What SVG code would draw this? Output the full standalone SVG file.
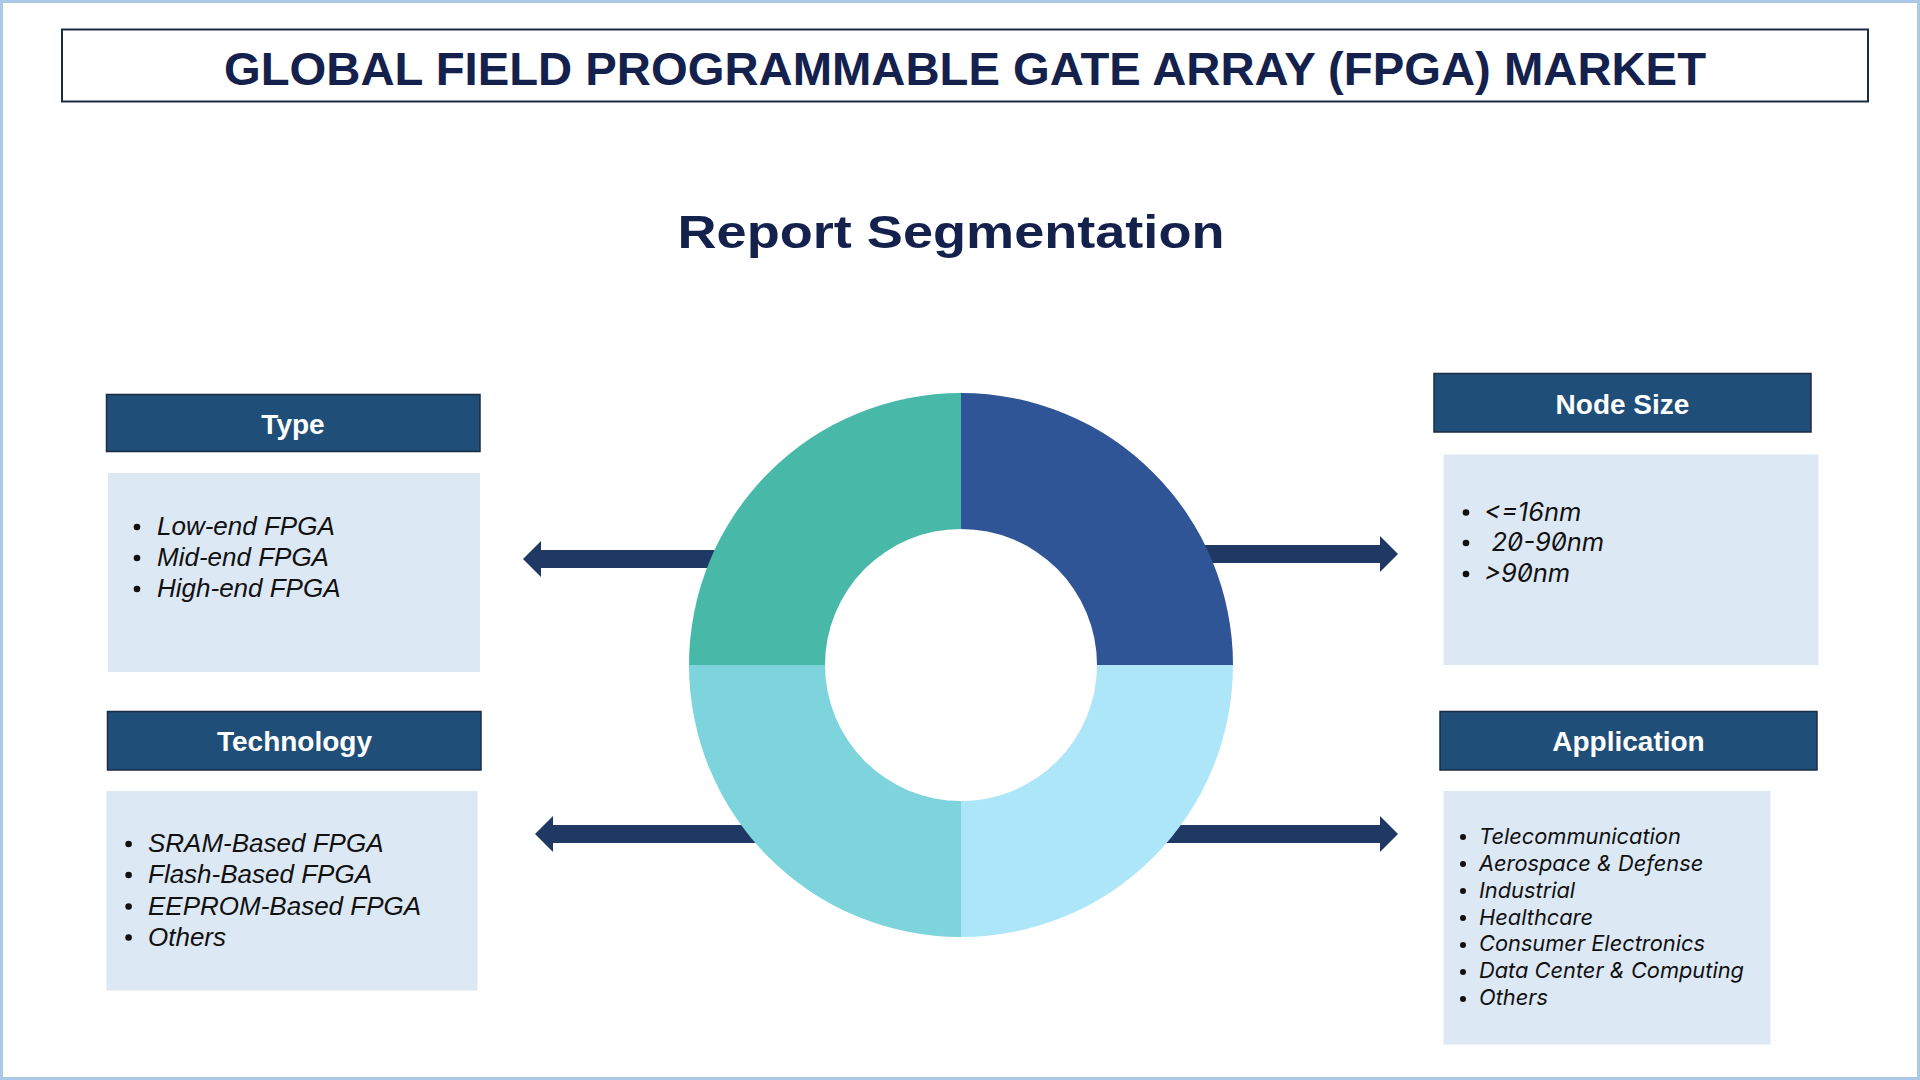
<svg xmlns="http://www.w3.org/2000/svg" width="1920" height="1080" viewBox="0 0 1920 1080">
<defs>
<style>
.title{font-family:"Liberation Sans",Arial,sans-serif;font-weight:bold;fill:#14214d;text-anchor:middle}
.hdr{fill:#1f4e79;stroke:#1b2d43;stroke-width:1.5}
.hdrt{font-family:"Liberation Sans",Arial,sans-serif;font-weight:bold;font-size:28px;fill:#ffffff;text-anchor:middle}
.box{fill:#dde8f5}
.item{font-family:"Liberation Sans",Arial,sans-serif;font-style:italic;font-size:26px;fill:#111111}
.itemi{font-family:Inter,"Liberation Sans",sans-serif;font-style:italic;fill:#111111;font-feature-settings:"zero" 1}
.dot{fill:#111111}
.arrow{fill:#1f3864}
</style>
</defs>
<rect x="0" y="0" width="1920" height="1080" fill="#ffffff"/>
<rect x="1.5" y="1.5" width="1917" height="1077" fill="none" stroke="#abc8e6" stroke-width="3"/>
<g id="title">
<rect x="62" y="29.5" width="1806" height="72" fill="#ffffff" stroke="#1e2b44" stroke-width="2"/>
<text class="title" x="965" y="85" font-size="47" textLength="1482" lengthAdjust="spacingAndGlyphs">GLOBAL FIELD PROGRAMMABLE GATE ARRAY (FPGA) MARKET</text>
</g>
<g id="subtitle">
<text class="title" x="951" y="248" font-size="46" textLength="547" lengthAdjust="spacingAndGlyphs">Report Segmentation</text>
</g>
<g id="connectors">
<polygon class="arrow" points="523,559 541,541 541,550 760,550 760,568 541,568 541,577"/>
<polygon class="arrow" points="1398,554 1380,536 1380,545 1180,545 1180,563 1380,563 1380,572"/>
<polygon class="arrow" points="535,834 553,816 553,825 780,825 780,843 553,843 553,852"/>
<polygon class="arrow" points="1398,834 1380,816 1380,825 1150,825 1150,843 1380,843 1380,852"/>
</g>
<g id="donut">
<path d="M961,393 A272,272 0 0 1 1233,665 L1097,665 A136,136 0 0 0 961,529 Z" fill="#2f5597"/>
<path d="M961,393 A272,272 0 0 0 689,665 L825,665 A136,136 0 0 1 961,529 Z" fill="#48b9a8"/>
<path d="M689,665 A272,272 0 0 0 961,937 L961,801 A136,136 0 0 1 825,665 Z" fill="#7ed4dc"/>
<path d="M1233,665 A272,272 0 0 1 961,937 L961,801 A136,136 0 0 0 1097,665 Z" fill="#aee6f9"/>
</g>
<g id="type">
<rect class="hdr" x="106.5" y="394.5" width="373.5" height="57"/>
<text class="hdrt" x="293" y="433.5">Type</text>
<rect class="box" x="108" y="473" width="372" height="199"/>
<circle class="dot" cx="137" cy="527" r="3.3"/>
<circle class="dot" cx="137" cy="558" r="3.3"/>
<circle class="dot" cx="137" cy="589" r="3.3"/>
<text class="item" x="157" y="535">Low-end FPGA</text>
<text class="item" x="157" y="566">Mid-end FPGA</text>
<text class="item" x="157" y="597">High-end FPGA</text>
</g>
<g id="technology">
<rect class="hdr" x="107.5" y="711.5" width="373.5" height="58.5"/>
<text class="hdrt" x="294.5" y="750.5">Technology</text>
<rect class="box" x="106.5" y="791" width="371" height="199.5"/>
<circle class="dot" cx="128.6" cy="844" r="3.3"/>
<circle class="dot" cx="128.6" cy="875" r="3.3"/>
<circle class="dot" cx="128.6" cy="906.5" r="3.3"/>
<circle class="dot" cx="128.6" cy="937.5" r="3.3"/>
<text class="item" x="148" y="852" font-size="24.4">SRAM-Based FPGA</text>
<text class="item" x="148" y="883" font-size="24.4">Flash-Based FPGA</text>
<text class="item" x="148" y="914.5" font-size="24.4">EEPROM-Based FPGA</text>
<text class="item" x="148" y="945.5" font-size="24.4">Others</text>
</g>
<g id="node-size">
<rect class="hdr" x="1434" y="373.5" width="377" height="58.5"/>
<text class="hdrt" x="1622.5" y="414">Node Size</text>
<rect class="box" x="1443.5" y="454.5" width="375" height="210.5"/>
<circle class="dot" cx="1466" cy="512.5" r="3.3"/>
<circle class="dot" cx="1466" cy="543" r="3.3"/>
<circle class="dot" cx="1466" cy="574" r="3.3"/>
<text class="itemi" x="1484" y="520.5" font-size="25.5">&lt;=16nm</text>
<text class="itemi" x="1491.5" y="551" font-size="25.5">20-90nm</text>
<text class="itemi" x="1484" y="582" font-size="25.5">&gt;90nm</text>
</g>
<g id="application">
<rect class="hdr" x="1440" y="711.5" width="377" height="58.5"/>
<text class="hdrt" x="1628.5" y="750.5">Application</text>
<rect class="box" x="1443.5" y="791" width="327" height="253.5"/>
<g class="dot">
<circle cx="1463" cy="837" r="3"/>
<circle cx="1463" cy="864" r="3"/>
<circle cx="1463" cy="891" r="3"/>
<circle cx="1463" cy="918" r="3"/>
<circle cx="1463" cy="945" r="3"/>
<circle cx="1463" cy="972" r="3"/>
<circle cx="1463" cy="999" r="3"/>
</g>
<text class="itemi" x="1479" y="843.7" font-size="21.8">Telecommunication</text>
<text class="itemi" x="1479" y="870.6" font-size="21.8">Aerospace &amp; Defense</text>
<text class="itemi" x="1479" y="897.6" font-size="21.8">Industrial</text>
<text class="itemi" x="1479" y="924.5" font-size="21.8">Healthcare</text>
<text class="itemi" x="1479" y="951.4" font-size="21.8">Consumer Electronics</text>
<text class="itemi" x="1479" y="978.4" font-size="21.8">Data Center &amp; Computing</text>
<text class="itemi" x="1479" y="1005.3" font-size="21.8">Others</text>
</g>
</svg>
